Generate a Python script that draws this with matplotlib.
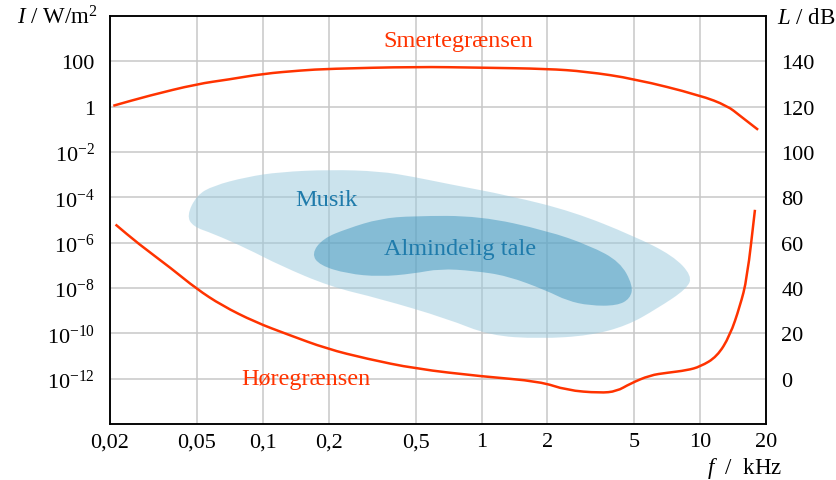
import numpy as np
import matplotlib
matplotlib.use("Agg")
import matplotlib.pyplot as plt
from matplotlib.path import Path
from matplotlib.patches import PathPatch

plt.rcParams['font.family'] = ['Liberation Serif', 'DejaVu Serif']
plt.rcParams['mathtext.fontset'] = 'custom'
plt.rcParams['mathtext.rm'] = 'Liberation Serif'
plt.rcParams['mathtext.it'] = 'Liberation Serif:italic'
plt.rcParams['font.size'] = 16

# --- data (frequency in kHz, level in dB re 1e-12 W/m^2) ---
pain_f = [0.0207, 0.03, 0.05, 0.07, 0.1, 0.15, 0.2, 0.5, 1.0, 2.0, 3.0, 5.0,
          10.0, 13.3, 15.2, 18.4]
pain_L = [120.4, 124.8, 130.0, 132.0, 134.5, 136.0, 136.7, 137.6, 137.2, 136.7,
          135.5, 132.3, 125.0, 120.4, 116.0, 109.8]

hear_f = [0.0212, 0.0269, 0.0383, 0.0496, 0.0649, 0.092, 0.1308, 0.196,
          0.298, 0.4965, 1.0, 1.85, 2.45, 3.48, 4.15, 4.78, 5.89, 7.05, 8.70,
          10.0, 11.94, 13.68, 15.2, 16.37, 17.8]
hear_L = [68.0, 59.6, 48.5, 39.7, 32.3, 25.0, 19.4, 13.2,
          8.8, 4.4, 1.0, -1.2, -5.1, -6.3, -5.6, -2.2, 1.5, 2.6, 3.7,
          5.3, 9.7, 19.0, 32.0, 44.0, 74.5]

music_f = [0.0449, 0.0498, 0.0592, 0.0843, 0.120, 0.203, 0.343, 0.486, 0.695,
           1.35, 2.62, 4.93, 7.51, 9.18, 8.71, 6.35, 4.63, 3.13, 1.85, 1.09,
           0.695, 0.343, 0.203, 0.120, 0.0846, 0.0592, 0.0479]
music_L = [72.0, 80.9, 85.1, 89.0, 91.2, 92.2, 91.5, 89.1, 86.0,
           80.7, 73.7, 63.1, 54.3, 45.4, 39.7, 30.9, 23.4, 19.0, 17.6, 19.0,
           26.5, 35.3, 40.6, 49.9, 57.4, 64.0, 67.1]

speech_f = [0.167, 0.188, 0.243, 0.343, 0.486, 0.984, 1.99, 3.13, 4.30, 4.93,
            4.78, 4.17, 3.13, 2.46, 1.99, 1.31, 0.914, 0.646, 0.486, 0.343,
            0.243, 0.182]
speech_L = [55.1, 61.8, 66.2, 70.6, 71.8, 71.8, 65.3, 58.7, 51.6, 41.0,
            35.3, 32.2, 32.2, 34.4, 38.8, 45.4, 47.6, 48.5, 46.3, 45.0,
            46.3, 50.0]

x_ticks = [0.02, 0.05, 0.1, 0.2, 0.5, 1, 2, 5, 10, 20]
x_labels = ['0,02', '0,05', '0,1', '0,2', '0,5', '1', '2', '5', '10', '20']
y_ticks = [1e2, 1, 1e-2, 1e-4, 1e-6, 1e-8, 1e-10, 1e-12]
y_labels = ['100', '1', r'$10^{-2}$', r'$10^{-4}$', r'$10^{-6}$', r'$10^{-8}$',
            r'$10^{-10}$', r'$10^{-12}$']
db_ticks = [0, 20, 40, 60, 80, 100, 120, 140]

RED = '#ff3300'
BLUE_TXT = '#1f7bab'


def to_I(L):
    return 10.0 ** ((np.asarray(L) - 120.0) / 10.0)


def spline_path(f, L, closed):
    # quadratic B-spline through the midpoints of the read outline
    pts = np.column_stack([f, to_I(L)])
    logp = np.log10(pts)
    if closed:
        mids = 10 ** ((logp + np.roll(logp, -1, axis=0)) / 2)
        verts = [mids[-1]]
        codes = [Path.MOVETO]
        for i in range(len(pts)):
            verts += [pts[i], mids[i]]
            codes += [Path.CURVE3, Path.CURVE3]
    else:
        mids = 10 ** ((logp[:-1] + logp[1:]) / 2)
        verts = [pts[0], mids[0]]
        codes = [Path.MOVETO, Path.LINETO]
        for i in range(1, len(pts) - 1):
            verts += [pts[i], mids[i]]
            codes += [Path.CURVE3, Path.CURVE3]
        verts.append(pts[-1])
        codes.append(Path.LINETO)
    return Path(verts, codes)


fig = plt.figure(figsize=(8.36, 4.81), dpi=100)
ax = fig.add_axes([0.1316, 0.1164, 0.7847, 0.8483])
ax.set_xscale('log')
ax.set_yscale('log')
ax.set_xlim(0.02, 20)
ax.set_ylim(1e-14, 1e4)

ax.add_patch(PathPatch(spline_path(music_f, music_L, True), facecolor='#99c9dd',
                       edgecolor='none', alpha=0.5, zorder=2))
ax.add_patch(PathPatch(spline_path(speech_f, speech_L, True), facecolor='#4096be',
                       edgecolor='none', alpha=0.5, zorder=2))

ax.add_patch(PathPatch(spline_path(pain_f, pain_L, False), facecolor='none',
                       edgecolor=RED, lw=1.8, zorder=4, capstyle='butt'))
ax.add_patch(PathPatch(spline_path(hear_f, hear_L, False), facecolor='none',
                       edgecolor=RED, lw=1.8, zorder=4, capstyle='butt'))

ax.text(0.78, to_I(149), 'Smertegrænsen', color=RED, ha='center', va='center',
        fontsize=17.5)
ax.text(0.158, to_I(0), 'Høregrænsen', color=RED, ha='center', va='center',
        fontsize=17.5)
ax.text(0.196, to_I(79), 'Musik', color=BLUE_TXT, ha='center', va='center',
        fontsize=17.5)
ax.text(0.797, to_I(57.3), 'Almindelig tale', color=BLUE_TXT, ha='center',
        va='center', fontsize=17.5)

ax.xaxis.set_major_locator(matplotlib.ticker.FixedLocator(x_ticks))
ax.xaxis.set_major_formatter(matplotlib.ticker.FixedFormatter(x_labels))
ax.xaxis.set_minor_locator(matplotlib.ticker.NullLocator())
ax.yaxis.set_major_locator(matplotlib.ticker.FixedLocator(y_ticks))
ax.yaxis.set_major_formatter(matplotlib.ticker.FixedFormatter(y_labels))
ax.yaxis.set_minor_locator(matplotlib.ticker.NullLocator())
ax.tick_params(axis='x', length=0, pad=6)
ax.tick_params(axis='y', length=0, pad=11)
ax.grid(True, color='#c8c8c8', lw=1.1, zorder=1)
ax.set_axisbelow(True)

ax2 = ax.twinx()
ax2.set_ylim(-20, 160)
ax2.set_yticks(db_ticks)
ax2.tick_params(length=0, pad=11)

for a in (ax, ax2):
    for s in a.spines.values():
        s.set_color('black')
        s.set_linewidth(1.1)

fig.text(0.117, 0.962, r'$I$ / W/m$^2$', ha='right', va='center', fontsize=16.5)
fig.text(0.930, 0.962, r'$L$ / dB', ha='left', va='center', fontsize=16.5)
fig.text(0.935, 0.027, r'$f$  /  kHz', ha='right', va='center', fontsize=16.5)

fig.savefig('out.png', dpi=100)
